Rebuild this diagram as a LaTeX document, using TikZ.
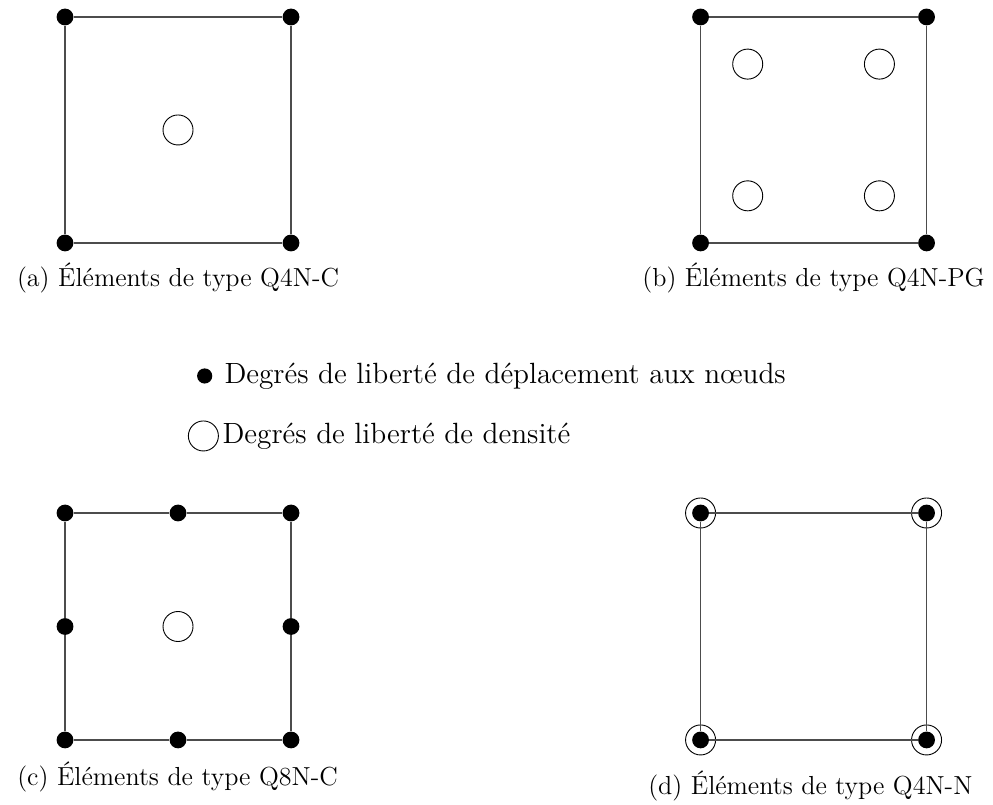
\documentclass[tikz,border=0pt]{standalone}
\usepackage{fontspec}
\usepackage{tikz}
\usetikzlibrary{calc,positioning}
\tikzset{
  ddl/.style={circle, fill=black, inner sep=0pt, minimum size=0.26cm},
  dens/.style={circle, draw=black, thin, fill=white, inner sep=0pt, minimum size=0.465cm},
  bord/.style={black!70, line width=0.6pt},
  legende/.style={font=\fontsize{12.9}{15}\selectfont, inner sep=0pt, anchor=west},
  soustitre/.style={font=\fontsize{11.5}{14}\selectfont},
}
\begin{document}
\begin{tikzpicture}
            \useasboundingbox (0,0) rectangle (15.379,-12.467);
            % (a) element Q4N-C
            \node[ddl] (a1) at (1.007,-0.263) {};
            \node[ddl] (a2) at (4.507,-0.263) {};
            \node[ddl] (a3) at (4.507,-3.763) {};
            \node[ddl] (a4) at (1.007,-3.763) {};
            \draw[bord] (a1) -- (a2) -- (a3) -- (a4) -- (a1);
            \node[dens] (ac) at (2.757,-2.013) {};
            \node[soustitre] (la) at (2.757,-4.31) {(a) Éléments de type Q4N-C};
            % (b) element Q4N-PG
            \node[ddl] (b1) at (10.85,-0.263) {};
            \node[ddl] (b2) at (14.35,-0.263) {};
            \node[ddl] (b3) at (14.35,-3.763) {};
            \node[ddl] (b4) at (10.85,-3.763) {};
            \draw[bord] (b1) -- (b2) -- (b3) -- (b4) -- (b1);
            \node[dens] (bg1) at (11.58,-0.993) {};
            \node[dens] (bg2) at (13.62,-0.993) {};
            \node[dens] (bg3) at (13.62,-3.033) {};
            \node[dens] (bg4) at (11.58,-3.033) {};
            \node[soustitre] (lb) at (12.6,-4.31) {(b) Éléments de type Q4N-PG};
            % Legende
            \node[ddl, minimum size=0.235cm] (ld) at (3.17,-5.823) {};
            \node[legende] (ldt) at (3.47,-5.823) {Degrés de liberté de déplacement aux nœuds};
            \node[dens] (lc) at (3.15,-6.752) {};
            \node[legende] (lct) at (3.44,-6.752) {Degrés de liberté de densité};
            % (c) element Q8N-C
            \node[ddl] (c1) at (1.007,-7.945) {};
            \node[ddl] (c2) at (2.757,-7.945) {};
            \node[ddl] (c3) at (4.507,-7.945) {};
            \node[ddl] (c4) at (4.507,-9.703) {};
            \node[ddl] (c5) at (4.507,-11.460) {};
            \node[ddl] (c6) at (2.757,-11.460) {};
            \node[ddl] (c7) at (1.007,-11.460) {};
            \node[ddl] (c8) at (1.007,-9.703) {};
            \draw[bord] (c1) -- (c2) -- (c3) -- (c4) -- (c5) -- (c6) -- (c7) -- (c8) -- (c1);
            \node[dens] (cc) at (2.757,-9.703) {};
            \node[soustitre] (lcc) at (2.75,-12.03) {(c) Éléments de type Q8N-C};
            % (d) element Q4N-N
            \node[dens] (dn1) at (10.85,-7.945) {};
            \node[dens] (dn2) at (14.35,-7.945) {};
            \node[dens] (dn3) at (14.35,-11.460) {};
            \node[dens] (dn4) at (10.85,-11.460) {};
            \node[ddl] (d1) at (10.85,-7.945) {};
            \node[ddl] (d2) at (14.35,-7.945) {};
            \node[ddl] (d3) at (14.35,-11.460) {};
            \node[ddl] (d4) at (10.85,-11.460) {};
            \draw[bord] (d1) -- (d2) -- (d3) -- (d4) -- (d1);
            \node[soustitre] (ldd) at (12.55,-12.17) {(d) Éléments de type Q4N-N};
\end{tikzpicture}
\end{document}
